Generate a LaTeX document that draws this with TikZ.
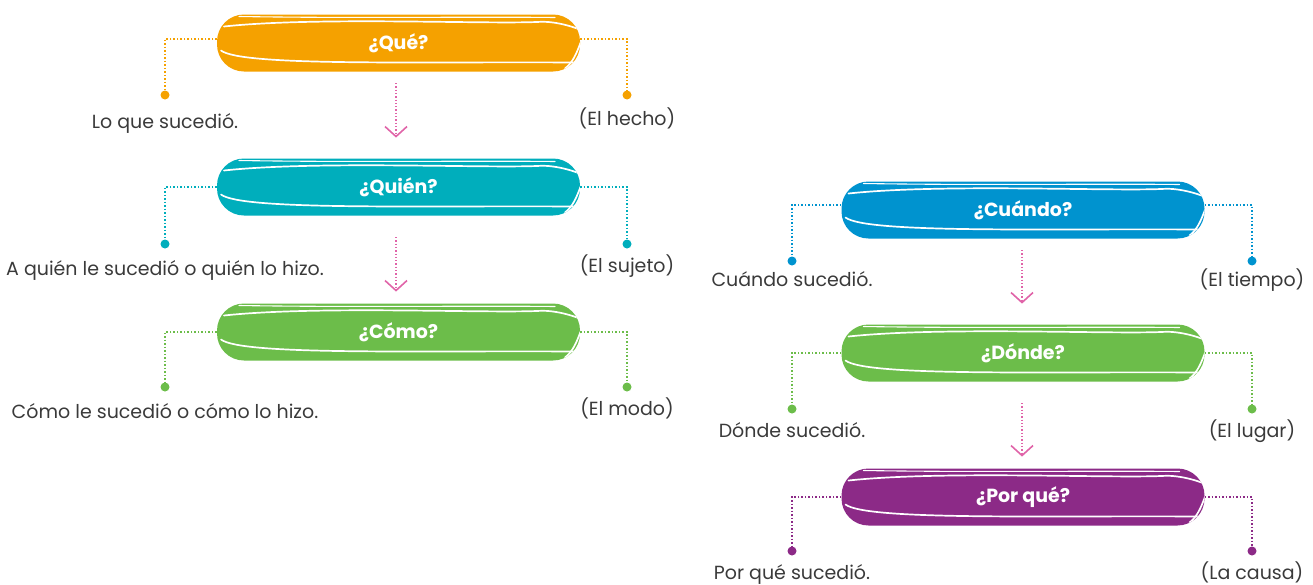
\documentclass[tikz,border=0pt]{standalone}
\usepackage{fontspec}
\setmainfont{Poppins}
\usetikzlibrary{arrows.meta,calc}
\definecolor{cQue}{HTML}{F5A100}
\definecolor{cQuien}{HTML}{00AEBC}
\definecolor{cGreen}{HTML}{6CBD4A}
\definecolor{cBlue}{HTML}{0093CF}
\definecolor{cPurple}{HTML}{8C2A87}
\definecolor{cPink}{HTML}{E063A8}
\definecolor{cText}{HTML}{3A3A3A}
\tikzset{
  pill/.style={rounded corners=27pt, minimum width=363pt, minimum height=57pt,
    fill=#1, text=white, inner sep=0pt, font=\fontsize{19}{21}\selectfont\bfseries,
    path picture={
      \coordinate (nw) at (path picture bounding box.north west);
      \draw[white, line width=1.7pt, line cap=round]
        ([shift={(7pt,-12pt)}]nw) .. controls ([shift={(100pt,-2pt)}]nw) and ([shift={(270pt,-10pt)}]nw) .. ([shift={(350pt,-6pt)}]nw)
        .. controls ([shift={(363pt,-14pt)}]nw) and ([shift={(364pt,-42pt)}]nw) .. ([shift={(348pt,-54pt)}]nw);
      \draw[white, line width=1.7pt, line cap=round]
        ([shift={(4pt,-36pt)}]nw) .. controls ([shift={(25pt,-52pt)}]nw) and ([shift={(200pt,-47pt)}]nw) .. ([shift={(358pt,-48pt)}]nw);
      \draw[white, line width=1.1pt, line cap=round]
        ([shift={(22pt,-2pt)}]nw) .. controls ([shift={(150pt,-4pt)}]nw) and ([shift={(250pt,-2pt)}]nw) .. ([shift={(338pt,-3pt)}]nw);
    }},
  conn/.style={#1, dotted, line width=1.5pt},
  dotmark/.style={circle, fill=#1, minimum size=9pt, inner sep=0pt},
  lbl/.style={anchor=base, text=cText, font=\fontsize{19}{21}\selectfont, inner sep=0pt},
  flow/.style={cPink, dotted, line width=1.3pt, -{Straight Barb[length=10pt,width=22pt,line width=1.6pt,sep=-1.6pt]}},
}
\begin{document}
\begin{tikzpicture}[x=1pt,y=-1pt]
\useasboundingbox (0,0) rectangle (1313,584);
\newcommand{\pillrow}[9]{%
  % #1 name, #2 colour, #3 text, #4 cy, #5 conn dy, #6 dot y, #7 label baseline, #8 left label, #9 right label
  \node[pill=#2] (#1) at (\colx,#4) {#3};
  \node[dotmark=#2] (#1L) at (\lx,#6) {};
  \node[dotmark=#2] (#1R) at (\rx,#6) {};
  \coordinate (#1la) at ($(#1.west)+(0,#5)$);
  \coordinate (#1ra) at ($(#1.east)+(0,#5)$);
  \draw[conn=#2] (#1la) -| (#1L);
  \draw[conn=#2] (#1ra) -| (#1R);
  \node[lbl] (#1Lt) at (\lx,#7) {#8};
  \node[lbl] (#1Rt) at (\rx,#7-\rdy) {#9};
}
\def\colx{398.5}\def\lx{165}\def\rx{627}\def\rdy{3}
\pillrow{que}{cQue}{¿Qué?}{43}{-4}{95}{128}{Lo que sucedió.}{(El hecho)}
\pillrow{quien}{cQuien}{¿Quién?}{187}{0}{244}{275}{A quién le sucedió o quién lo hizo.}{(El sujeto)}
\pillrow{como}{cGreen}{¿Cómo?}{332}{0}{387}{418}{Cómo le sucedió o cómo lo hizo.}{(El modo)}
\def\colx{1023}\def\lx{792}\def\rx{1252}\def\rdy{0}
\pillrow{cuando}{cBlue}{¿Cuándo?}{210}{-5}{261}{286}{Cuándo sucedió.}{(El tiempo)}
\pillrow{donde}{cGreen}{¿Dónde?}{353}{0}{409}{437}{Dónde sucedió.}{(El lugar)}
\pillrow{porque}{cPurple}{¿Por qué?}{497}{0}{551}{579}{Por qué sucedió.}{(La causa)}
\coordinate (a1s) at (396,83);  \coordinate (a1e) at (396,136);
\coordinate (a2s) at (396,237); \coordinate (a2e) at (396,290);
\coordinate (a3s) at (1022,250); \coordinate (a3e) at (1022,302);
\coordinate (a4s) at (1022,403); \coordinate (a4e) at (1022,455);
\draw[flow] (a1s) -- (a1e);
\draw[flow] (a2s) -- (a2e);
\draw[flow] (a3s) -- (a3e);
\draw[flow] (a4s) -- (a4e);
\end{tikzpicture}
\end{document}
